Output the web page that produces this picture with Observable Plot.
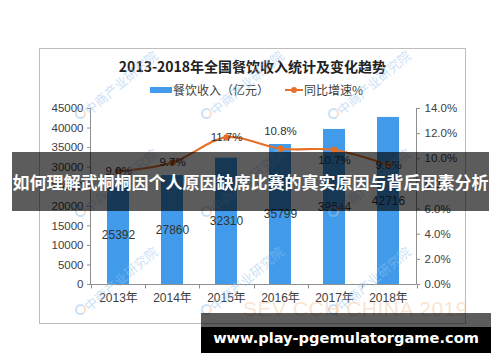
<!DOCTYPE html>
<html>
<head>
<meta charset="utf-8">
<script src="https://cdn.jsdelivr.net/npm/d3@7"></script>
<script src="https://cdn.jsdelivr.net/npm/@observablehq/plot@0.6"></script>
<style>
  html, body { margin: 0; padding: 0; background: #fff; }
  #root { position: relative; width: 500px; height: 362px; overflow: hidden; background: #fff;
          font-family: "Liberation Sans", "Noto Sans CJK SC", sans-serif; }
  .abs { position: absolute; }
  #frame { left: 39px; top: 48px; width: 425px; height: 274px; border: 1px solid #bdbdbd; }
  #title { left: 39px; width: 427px; top: 56px; text-align: center; font-family: "Noto Sans CJK SC", sans-serif;
           font-weight: 700; font-size: 14px; color: #222; line-height: 20px; }
  .leg { top: 82px; font-family: "Noto Sans CJK SC", sans-serif; font-size: 12px; color: #404040; line-height: 16px; }
  .wm { font-family: "Noto Sans CJK SC", sans-serif; font-size: 13px; color: rgba(150,195,238,0.5);
        transform-origin: 0 50%; white-space: nowrap; line-height: 14px; }
  #sev { left: 243px; top: 298px; font-family: "Liberation Sans", sans-serif; font-size: 21px; color: rgba(245,195,150,0.45);
         letter-spacing: 0.5px; white-space: nowrap; line-height: 22px; }
  #banner { left: 12px; top: 152px; width: 477px; height: 59px; background: rgba(0,0,0,0.64); color: #fff;
            font-family: "Noto Sans CJK SC", sans-serif; font-weight: 700; font-size: 17px; line-height: 59px;
            text-align: center; white-space: nowrap; }
  #urlTop { left: 201px; top: 313px; width: 290px; height: 14px; background: rgba(0,0,0,0.64); }
  #url { left: 201px; top: 327px; width: 290px; height: 26px; background: #000; color: #fff;
         font-family: "DejaVu Sans", sans-serif; font-weight: 700; font-size: 14.6px; line-height: 22px; text-align: center;
         white-space: nowrap; }
</style>
</head>
<body>
<div id="root">
  <div id="frame" class="abs"></div>
  <div id="title" class="abs"></div>
</div>
<script>
// ---- data ----
const years = [2013, 2014, 2015, 2016, 2017, 2018];
const revenue = [25392, 27860, 32310, 35799, 39644, 42716];   // 餐饮收入（亿元）
const growth = [9.0, 9.7, 11.7, 10.8, 10.7, 9.5];             // 同比增速%
const leftTicks = [0, 5000, 10000, 15000, 20000, 25000, 30000, 35000, 40000, 45000];
const rightTicks = [0, 2, 4, 6, 8, 10, 12, 14];
const titleText = "2013-2018年全国餐饮收入统计及变化趋势";
const seriesNames = ["餐饮收入（亿元）", "同比增速%"];
const bannerText = "如何理解武桐桐因个人原因缺席比赛的真实原因与背后因素分析";
const urlText = "www.play-pgemulatorgame.com";
const watermarkText = "中商产业研究院";
const watermark2Text = "SEV CCH CHINA 2019";

const BLUE = "#419bea";
const ORANGE = "#e4702a";
const yMax = leftTicks[leftTicks.length - 1];
const pMax = rightTicks[rightTicks.length - 1];
const K = yMax / pMax;  // map percent onto the revenue scale (dual axis)

const data = years.map((year, i) => ({year, revenue: revenue[i], growth: growth[i]}));

const root = document.getElementById("root");
document.getElementById("title").textContent = titleText;

function addEl(cls, css, text) {
  const el = document.createElement("div");
  el.className = "abs " + (cls || "");
  Object.assign(el.style, css);
  if (text != null) el.textContent = text;
  root.appendChild(el);
  return el;
}
// legend
addEl("", {left: "150px", top: "87px", width: "22px", height: "6px", background: BLUE});
addEl("leg", {left: "173px"}, seriesNames[0]);
addEl("", {left: "285px", top: "89px", width: "18px", height: "2px", background: ORANGE});
addEl("", {left: "291px", top: "87px", width: "6px", height: "6px", borderRadius: "50%", background: ORANGE});
addEl("leg", {left: "304px"}, seriesNames[1]);

// axis lines + category boundary ticks, drawn from the plot's own dimensions
function axisLines(index, scales, values, dims) {
  const g = d3.create("svg:g").attr("stroke", "#8f8f8f").attr("stroke-width", 1).attr("fill", "none");
  const x0 = dims.marginLeft + 0.5, x1 = dims.width - dims.marginRight + 0.5;
  const y0 = dims.marginTop, y1 = dims.height - dims.marginBottom + 0.5;
  g.append("line").attr("x1", x0).attr("x2", x0).attr("y1", y0).attr("y2", y1);
  g.append("line").attr("x1", x1).attr("x2", x1).attr("y1", y0).attr("y2", y1);
  g.append("line").attr("x1", x0).attr("x2", x1).attr("y1", y1).attr("y2", y1);
  const step = (x1 - x0) / years.length;
  for (let i = 0; i <= years.length; i++) {
    const xx = Math.round(x0 + i * step) + 0.5;
    g.append("line").attr("x1", xx).attr("x2", xx).attr("y1", y1).attr("y2", y1 + 4);
  }
  return g.node();
}

const labelShift = {2016: -17, 2017: 10};
const shiftGroups = [0, -17, 10];

const chart = Plot.plot({
  width: 500,
  height: 362,
  marginLeft: 90,
  marginRight: 84,
  marginTop: 108,
  marginBottom: 78,
  x: {type: "band", domain: years, paddingInner: 0.6, paddingOuter: 0.3},
  y: {domain: [0, yMax]},
  style: {background: "transparent", fontFamily: "Liberation Sans, Noto Sans CJK SC, sans-serif", fontSize: "11px", color: "#404040", overflow: "visible"},
  marks: [
    Plot.barY(data, {x: "year", y: "revenue", fill: BLUE}),
    axisLines,
    Plot.axisY(leftTicks, {anchor: "left", tickSize: 3, tickPadding: 4, stroke: "#8f8f8f", label: null, tickFormat: d => String(d), fontSize: 11.5}),
    Plot.axisY(rightTicks.map(v => v * K), {anchor: "right", tickSize: 3, tickPadding: 5, stroke: "#8f8f8f", label: null, tickFormat: d => (d / K).toFixed(1) + "%", fontSize: 11.5}),
    Plot.axisX({anchor: "bottom", tickSize: 0, tickPadding: 9, label: null, tickFormat: d => d + "年", fontSize: 12}),
    Plot.text(data, {x: "year", y: d => d.revenue / 2, text: d => String(d.revenue), fill: "#333", fontSize: 12}),
    Plot.line(data, {x: "year", y: d => d.growth * K, stroke: ORANGE, strokeWidth: 2.2, curve: "catmull-rom"}),
    Plot.dot(data, {x: "year", y: d => d.growth * K, r: 3.2, fill: ORANGE}),
    ...shiftGroups.map(s => Plot.text(data, {
      filter: d => (labelShift[d.year] || 0) === s,
      x: "year", y: d => d.growth * K, dy: s,
      text: d => d.growth.toFixed(1) + "%", fill: "#333", fontSize: 11.5
    }))
  ]
});
chart.style.position = "absolute";
chart.style.left = "0px";
chart.style.top = "0px";
root.appendChild(chart);

// faint diagonal watermarks
const wmCols = [80, 206, 333];
const wmRows = [112, 210, 308];
wmRows.forEach(y => wmCols.forEach(x => {
  addEl("wm", {left: (x + 6) + "px", top: (y - 7) + "px", transform: "rotate(-40deg)"}, watermarkText);
  addEl("", {left: (x - 5) + "px", top: (y - 4) + "px", width: "7px", height: "7px", borderRadius: "50%",
             border: "2px solid rgba(150,195,238,0.5)", borderRightColor: "rgba(245,190,150,0.5)"});
}));
addEl("", {}, null).id = "sev";
document.getElementById("sev").textContent = watermark2Text;

// overlay banners
addEl("", {}, null).id = "banner";
document.getElementById("banner").textContent = bannerText;
addEl("", {}, null).id = "urlTop";
addEl("", {}, null).id = "url";
document.getElementById("url").textContent = urlText;
</script>
</body>
</html>
